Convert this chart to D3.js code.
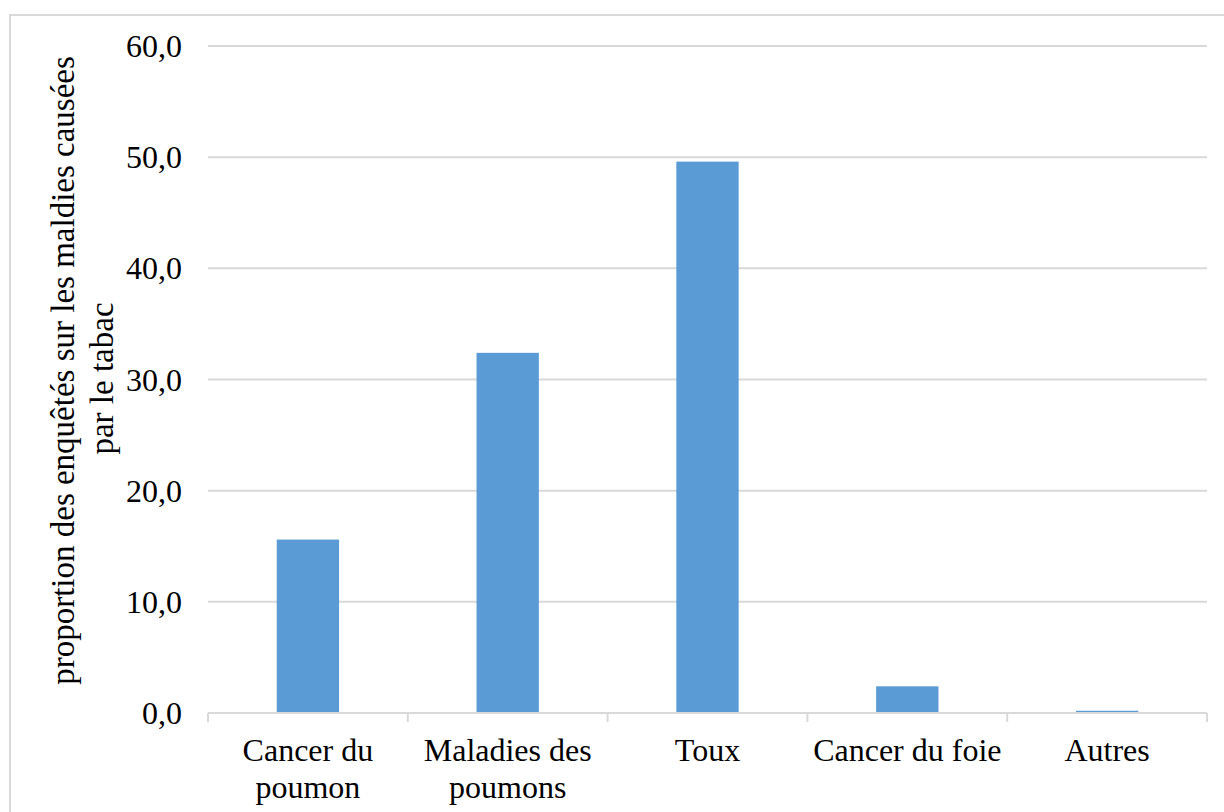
<!DOCTYPE html>
<html>
<head>
<meta charset="utf-8">
<script src="https://cdn.jsdelivr.net/npm/d3@7"></script>
<style>
  html, body { margin: 0; padding: 0; background: #fff; }
  svg { display: block; }
  text { font-family: "Liberation Serif", "Times New Roman", Times, serif; fill: #000; }
</style>
</head>
<body>
<svg id="chart" width="1224" height="812"></svg>
<script>
// Maladies causées par le tabac, selon les enquêtés (%)
const categories = [
  ["Cancer du", "poumon"],
  ["Maladies des", "poumons"],
  ["Toux"],
  ["Cancer du foie"],
  ["Autres"]
];
const values = [15.6, 32.4, 49.6, 2.4, 0.2];
const yTicks = [0, 10, 20, 30, 40, 50, 60];
const yTitle = ["proportion des enquêtés sur les maldies causées", "par le tabac"];

const W = 1224, H = 812;
const margin = { left: 208, right: 17, top: 46, bottom: 99 };
const fontSize = 32;
const svg = d3.select("#chart");

// Outer chart frame (runs off the right and bottom edges)
svg.append("rect")
  .attr("x", 10).attr("y", 15)
  .attr("width", 1400).attr("height", 1000)
  .attr("fill", "#fff")
  .attr("stroke", "#d9d9d9").attr("stroke-width", 2);

const keys = categories.map((c, i) => i);
const x = d3.scaleBand()
  .domain(keys)
  .range([margin.left, W - margin.right])
  .padding(0);

const y = d3.scaleLinear()
  .domain([0, 60])
  .range([H - margin.bottom, margin.top]);

// Horizontal gridlines
svg.append("g")
  .selectAll("line")
  .data(yTicks.filter(t => t > 0))
  .join("line")
  .attr("x1", margin.left).attr("x2", W - margin.right)
  .attr("y1", d => y(d)).attr("y2", d => y(d))
  .attr("stroke", "#d9d9d9").attr("stroke-width", 2);

// Bars
const barW = x.bandwidth() * 0.312;
svg.append("g")
  .selectAll("rect")
  .data(values)
  .join("rect")
  .attr("x", (d, i) => x(i) + x.bandwidth() / 2 - barW / 2)
  .attr("width", barW)
  .attr("y", d => y(d))
  .attr("height", d => y(0) - y(d))
  .attr("fill", "#5b9bd5");

// Category axis: baseline plus boundary ticks
const xAxis = svg.append("g");
xAxis.append("line")
  .attr("x1", margin.left).attr("x2", W - margin.right)
  .attr("y1", y(0)).attr("y2", y(0))
  .attr("stroke", "#d9d9d9").attr("stroke-width", 2);
const bounds = keys.map(k => x(k)).concat([x(keys[keys.length - 1]) + x.bandwidth()]);
xAxis.selectAll("line.tick")
  .data(bounds)
  .join("line")
  .attr("class", "tick")
  .attr("x1", d => d).attr("x2", d => d)
  .attr("y1", y(0)).attr("y2", y(0) + 9)
  .attr("stroke", "#d9d9d9").attr("stroke-width", 2);

xAxis.selectAll("text")
  .data(categories)
  .join("text")
  .attr("text-anchor", "middle")
  .attr("font-size", fontSize)
  .attr("transform", (d, i) => `translate(${x(i) + x.bandwidth() / 2},${y(0) + 48})`)
  .selectAll("tspan")
  .data(d => d)
  .join("tspan")
  .attr("x", 0)
  .attr("dy", (d, j) => j === 0 ? 0 : 37)
  .text(d => d);

// Value axis labels
const fmt = d => d3.format(".1f")(d).replace(".", ",");
svg.append("g")
  .selectAll("text")
  .data(yTicks)
  .join("text")
  .attr("x", 182)
  .attr("y", d => y(d) + 11)
  .attr("text-anchor", "end")
  .attr("font-size", fontSize)
  .text(fmt);

// Value axis title, two lines
const midY = (y(0) + y(60)) / 2;
svg.append("g")
  .selectAll("text")
  .data(yTitle)
  .join("text")
  .attr("text-anchor", "middle")
  .attr("font-size", 33)
  .attr("transform", (d, j) => `translate(${74 + j * 39},${midY + (j === 0 ? -9 : -1)}) rotate(-90)`)
  .text(d => d);
</script>
</body>
</html>
